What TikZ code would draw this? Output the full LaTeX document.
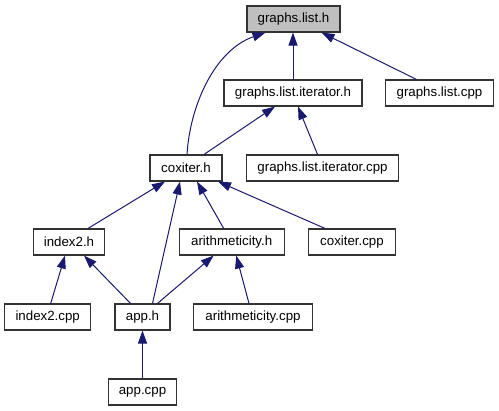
\documentclass[tikz,border=0pt]{standalone}
\usepackage{fontspec}
\setmainfont{Liberation Sans}
\usetikzlibrary{arrows.meta}
\definecolor{edgecol}{HTML}{191970}
\definecolor{rootfill}{HTML}{BFBFBF}
\tikzset{
  box/.style={draw=black!80, line width=1.1pt, fill=white, minimum height=26pt, inner sep=0pt,
    font=\fontsize{13.3}{16}\selectfont},
  rootbox/.style={box, fill=rootfill},
  edge/.style={draw=edgecol, line width=1pt, -{Triangle[length=13pt,width=9pt]}, fill=none},
}
\begin{document}
\begin{tikzpicture}[x=1pt,y=-1pt]
\useasboundingbox (0,0) rectangle (499,411);
\node[rootbox, minimum width=93pt] (gl) at (293.5,19) {graphs.list.h};
\node[box, minimum width=138pt] (gli) at (293,93) {graphs.list.iterator.h};
\node[box, minimum width=108pt] (glcpp) at (439.5,93) {graphs.list.cpp};
\node[box, minimum width=72pt] (coxh) at (186,168) {coxiter.h};
\node[box, minimum width=152pt] (glicpp) at (322.5,168) {graphs.list.iterator.cpp};
\node[box, minimum width=71pt] (idx) at (69,242) {index2.h};
\node[box, minimum width=105pt] (arh) at (231.7,242) {arithmeticity.h};
\node[box, minimum width=87pt] (coxcpp) at (352,242) {coxiter.cpp};
\node[box, minimum width=86pt] (idxcpp) at (47.7,317) {index2.cpp};
\node[box, minimum width=55pt] (apph) at (142.5,317) {app.h};
\node[box, minimum width=119pt] (arcpp) at (253,317) {arithmeticity.cpp};
\node[box, minimum width=68pt] (appcpp) at (142.5,392) {app.cpp};

\draw[edge] ([xshift=1pt]coxh.north) .. controls (190,105) and (215,50) .. ([xshift=-28pt]gl.south);
\draw[edge] (gli.north) -- (gli.north |- gl.south);
\draw[edge] ([xshift=-23pt]glcpp.north) -- ([xshift=28pt]gl.south);
\draw[edge] ([xshift=18pt]coxh.north) -- ([xshift=-18pt]gli.south);
\draw[edge] ([xshift=-5pt]glicpp.north) -- ([xshift=5pt]gli.south);
\draw[edge] ([xshift=19pt]idx.north) -- ([xshift=-21pt]coxh.south);
\draw[edge] ([xshift=10pt]apph.north) -- ([xshift=-6pt]coxh.south);
\draw[edge] ([xshift=-8pt]arh.north) -- ([xshift=11pt]coxh.south);
\draw[edge] ([xshift=-27pt]coxcpp.north) -- ([xshift=32pt]coxh.south);
\draw[edge] ([xshift=3pt]idxcpp.north) -- ([xshift=-4pt]idx.south);
\draw[edge] ([xshift=-12pt]apph.north) -- ([xshift=15pt]idx.south);
\draw[edge] ([xshift=15pt]apph.north) -- ([xshift=-18pt]arh.south);
\draw[edge] ([xshift=-4pt]arcpp.north) -- ([xshift=4.5pt]arh.south);
\draw[edge] (appcpp.north) -- (apph.south);
\end{tikzpicture}
\end{document}
